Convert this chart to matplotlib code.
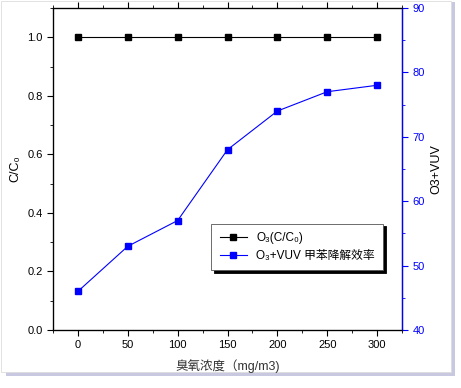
import matplotlib
matplotlib.use("Agg")
import matplotlib.pyplot as plt
from matplotlib.ticker import MultipleLocator, FormatStrFormatter
from matplotlib.patches import Rectangle

plt.rcParams['font.family'] = ['Liberation Sans', 'Noto Sans CJK SC', 'DejaVu Sans']

ozone = [0, 50, 100, 150, 200, 250, 300]
c_ratio = [1.0, 1.0, 1.0, 1.0, 1.0, 1.0, 1.0]
vuv_eff = [46, 53, 57, 68, 74, 77, 78]

fig = plt.figure(figsize=(4.61, 3.88), dpi=100)
# outer frame with shadow
fig.patches.append(Rectangle((0.012, 0.03), 0.975, 0.965, transform=fig.transFigure,
                             facecolor='#c8c8e0', edgecolor='none', zorder=-2))
fig.patches.append(Rectangle((0.003, 0.04), 0.975, 0.957, transform=fig.transFigure,
                             facecolor='white', edgecolor='#dddddd', lw=0.6, zorder=-1))

ax = fig.add_axes([53/461, 1 - 330/388, (402-53)/461, (330-8)/388])
ax.set_facecolor('none')
ax.plot(ozone, c_ratio, color='black', lw=0.8, marker='s', ms=4, label='O₃(C/C₀)')
ax.set_xlim(-25, 325)
ax.set_ylim(0, 1.1)
ax.xaxis.set_major_locator(MultipleLocator(50))
ax.xaxis.set_minor_locator(MultipleLocator(25))
ax.yaxis.set_major_locator(MultipleLocator(0.2))
ax.yaxis.set_minor_locator(MultipleLocator(0.1))
ax.tick_params(axis='both', which='both', labelsize=8, direction='out')
ax.tick_params(which='major', length=4)
ax.tick_params(which='minor', length=2.5)
ax.tick_params(axis='x', top=True, which='both')
ax.set_xlabel('臭氧浓度（mg/m3)', fontsize=9, color='#333333', labelpad=6)
ax.set_ylabel('C/C₀', fontsize=9)
ax.yaxis.set_major_formatter(FormatStrFormatter('%.1f'))
for s in ax.spines.values():
    s.set_linewidth(0.9)

ax2 = ax.twinx()
l2, = ax2.plot(ozone, vuv_eff, color='blue', lw=0.8, marker='s', ms=4,
               label='O₃+VUV 甲苯降解效率')
ax2.set_ylim(40, 90)
ax2.yaxis.set_major_locator(MultipleLocator(10))
ax2.yaxis.set_minor_locator(MultipleLocator(5))
ax2.tick_params(axis='y', which='both', colors='blue', labelsize=8, direction='out')
ax2.tick_params(which='major', length=4)
ax2.tick_params(which='minor', length=2.5)
ax2.spines['right'].set_color('blue')
ax2.spines['right'].set_linewidth(0.9)
ax2.set_ylabel('O3+VUV', fontsize=9, color='black')

h1, lab1 = ax.get_legend_handles_labels()
leg = ax2.legend(h1 + [l2], lab1 + [l2.get_label()], loc='lower right',
                 bbox_to_anchor=(0.946, 0.186), borderaxespad=0, fontsize=8.5,
                 frameon=True, fancybox=False, shadow={'color': 'black', 'alpha': 1},
                 edgecolor='#555555', handlelength=2.3, borderpad=0.7, labelspacing=0.5)
leg.get_frame().set_linewidth(0.6)

fig.savefig('out.png', dpi=100)
